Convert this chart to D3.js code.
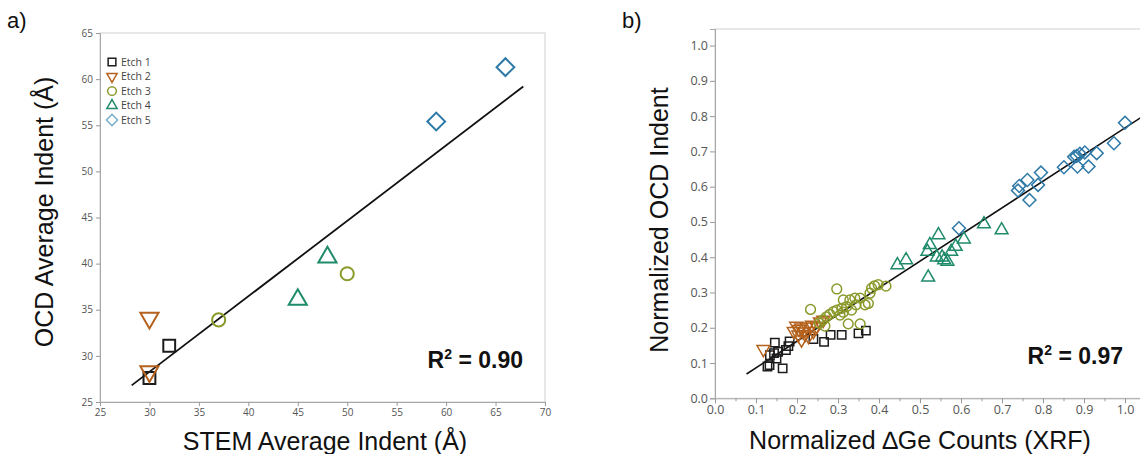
<!DOCTYPE html>
<html>
<head>
<meta charset="utf-8">
<script src="https://cdn.jsdelivr.net/npm/d3@7"></script>
<style>
  body { margin: 0; background: #fff; }
  svg { display: block; }
  .tick text { fill: #555; font-family: "Open Sans", "Noto Sans", sans-serif; }
  .tick line { stroke: #999; }
  .title { font-family: "Liberation Sans", Arial, sans-serif; fill: #111; }
</style>
</head>
<body>
<svg id="chart" width="1140" height="454"></svg>
<script>
// series names, colours and marker shapes
const etchNames = ["Etch 1", "Etch 2", "Etch 3", "Etch 4", "Etch 5"];
const etchColors = ["#1c1c1c", "#b4621d", "#8b9a2b", "#1f8b6b", "#2d79a7"];
const legendColors = ["#1c1c1c", "#b4621d", "#8b9a2b", "#1f8b6b", "#7db2cf"];
const etchShapes = ["square", "triangleDown", "circle", "triangle", "diamond"];

// panel a: STEM vs OCD average indent
const aEtch1 = [[30, 27.6], [32, 31.1]];
const aEtch2 = [[30, 34.1], [30, 28.3]];
const aEtch3 = [[37, 33.9], [50, 38.9]];
const aEtch4 = [[45, 36.1], [48, 40.7]];
const aEtch5 = [[59, 55.4], [66, 61.3]];
const aFit = [[28.2, 26.8], [67.8, 59.2]];
const aTicks = [25, 30, 35, 40, 45, 50, 55, 60, 65, 70];
const aYTicks = [25, 30, 35, 40, 45, 50, 55, 60, 65];

// panel b: normalized XRF counts vs normalized OCD indent
const bEtch1 = [[0.128, 0.090], [0.133, 0.094], [0.134, 0.122], [0.144, 0.128], [0.150, 0.113],
  [0.146, 0.158], [0.154, 0.132], [0.165, 0.085], [0.173, 0.137], [0.179, 0.148], [0.182, 0.161],
  [0.240, 0.168], [0.266, 0.160], [0.282, 0.180], [0.309, 0.180], [0.350, 0.184], [0.368, 0.192]];
const bEtch2 = [[0.118, 0.139], [0.192, 0.190], [0.198, 0.205], [0.205, 0.196], [0.203, 0.180],
  [0.211, 0.166], [0.215, 0.189], [0.224, 0.203], [0.228, 0.176], [0.236, 0.208], [0.240, 0.190],
  [0.248, 0.203], [0.256, 0.217], [0.264, 0.222], [0.220, 0.182], [0.210, 0.200]];
const bEtch3 = [[0.297, 0.310], [0.233, 0.252], [0.398, 0.322], [0.417, 0.318], [0.389, 0.319],
  [0.382, 0.312], [0.378, 0.298], [0.354, 0.284], [0.341, 0.284], [0.329, 0.279], [0.313, 0.279],
  [0.374, 0.269], [0.366, 0.265], [0.321, 0.260], [0.309, 0.255], [0.297, 0.250], [0.289, 0.246],
  [0.280, 0.238], [0.272, 0.231], [0.333, 0.250], [0.344, 0.265], [0.325, 0.211], [0.354, 0.211],
  [0.305, 0.236], [0.313, 0.244], [0.263, 0.222], [0.268, 0.205], [0.254, 0.213]];
const bEtch4 = [[0.656, 0.494], [0.699, 0.477], [0.607, 0.451], [0.587, 0.430], [0.576, 0.416],
  [0.545, 0.463], [0.524, 0.435], [0.518, 0.416], [0.541, 0.400], [0.554, 0.400], [0.559, 0.392],
  [0.567, 0.388], [0.466, 0.392], [0.445, 0.378], [0.520, 0.343]];
const bEtch5 = [[1.000, 0.781], [0.973, 0.723], [0.931, 0.695], [0.911, 0.657], [0.902, 0.697],
  [0.890, 0.693], [0.882, 0.687], [0.876, 0.685], [0.884, 0.657], [0.851, 0.655], [0.795, 0.640],
  [0.788, 0.605], [0.762, 0.619], [0.767, 0.562], [0.742, 0.602], [0.739, 0.589], [0.595, 0.482]];
const bFit = [[0.077, 0.069], [1.04, 0.797]];
const bTicks = [0, 0.1, 0.2, 0.3, 0.4, 0.5, 0.6, 0.7, 0.8, 0.9, 1.0];
const bMinor = [0.05, 0.15, 0.25, 0.35, 0.45, 0.55, 0.65, 0.75, 0.85, 0.95];

const svg = d3.select("#chart");

function shapePath(shape, size) {
  let type = d3.symbolSquare;
  if (shape === "circle") type = d3.symbolCircle;
  if (shape === "triangle" || shape === "triangleDown") type = d3.symbolTriangle;
  let s = size;
  if (shape.startsWith("triangle")) s = size * 0.75;
  if (shape === "diamond") s = size * 1.05;
  return d3.symbol().type(type).size(s)();
}
function shapeRotate(shape) {
  if (shape === "triangleDown") return " rotate(180)";
  if (shape === "diamond") return " rotate(45)";
  return "";
}

function drawPanel(p) {
  let g = svg.append("g");
  let x = d3.scaleLinear().domain(p.xDomain).range(p.xRange);
  let y = d3.scaleLinear().domain(p.yDomain).range(p.yRange);

  // frame
  g.append("rect")
    .attr("x", p.xRange[0]).attr("y", p.yRange[1])
    .attr("width", p.xRange[1] - p.xRange[0])
    .attr("height", p.yRange[0] - p.yRange[1])
    .attr("fill", "none").attr("stroke", "#cfcfcf").attr("stroke-width", 1);

  let xAxis = g.append("g")
    .attr("transform", `translate(0,${p.yRange[0]})`)
    .call(d3.axisBottom(x).tickValues(p.xTicks).tickSize(p.tickLen).tickPadding(p.tickPad).tickFormat(p.fmt));
  let yAxis = g.append("g")
    .attr("transform", `translate(${p.xRange[0]},0)`)
    .call(d3.axisLeft(y).tickValues(p.yTicks).tickSize(p.tickLen).tickPadding(p.tickPad).tickFormat(p.fmt));
  g.selectAll(".domain").attr("stroke", "#a8a8a8");
  g.selectAll(".tick text").style("font-size", p.tickFont + "px");

  if (p.xMinor) {
    g.append("g")
      .attr("transform", `translate(0,${p.yRange[0]})`)
      .call(d3.axisBottom(x).tickValues(p.xMinor).tickSize(3).tickFormat(""))
      .select(".domain").remove();
  }

  // fit line
  g.append("path")
    .datum(p.fit)
    .attr("d", d3.line().x(d => x(d[0])).y(d => y(d[1])))
    .attr("fill", "none").attr("stroke", "#111").attr("stroke-width", p.lineW);

  // points
  p.series.forEach((data, i) => {
    g.append("g").selectAll("path")
      .data(data)
      .join("path")
      .attr("d", shapePath(etchShapes[i], p.sizes[i]))
      .attr("transform", d => `translate(${x(d[0])},${y(d[1])})` + shapeRotate(etchShapes[i]))
      .attr("fill", "none")
      .attr("stroke", etchColors[i])
      .attr("stroke-width", p.strokeW);
  });

  // axis titles
  g.append("text").attr("class", "title")
    .attr("x", p.xTitlePos[0]).attr("y", p.xTitlePos[1])
    .attr("text-anchor", "middle").style("font-size", "25px")
    .text(p.xTitle);
  g.append("text").attr("class", "title")
    .attr("transform", `translate(${p.yTitlePos[0]},${p.yTitlePos[1]}) rotate(-90)`)
    .attr("text-anchor", "middle").style("font-size", "25px")
    .text(p.yTitle);

  // R squared
  let r = g.append("text").attr("class", "title")
    .attr("x", p.rPos[0]).attr("y", p.rPos[1])
    .attr("text-anchor", "end")
    .style("font-size", "23px").style("font-weight", "bold");
  r.append("tspan").text("R");
  r.append("tspan").attr("dy", -9).style("font-size", "14px").text("2");
  r.append("tspan").attr("dy", 9).text(" = " + p.r2);

  // panel letter
  g.append("text").attr("class", "title")
    .attr("x", p.letterPos[0]).attr("y", p.letterPos[1])
    .style("font-size", "22px").text(p.letter);

  return { g, x, y };
}

let panelA = drawPanel({
  xDomain: [25, 70], xRange: [100, 545],
  yDomain: [25, 65], yRange: [402, 33],
  xTicks: aTicks, yTicks: aYTicks, fmt: d3.format("d"),
  tickLen: 4, tickPad: 3, tickFont: 10,
  fit: aFit, lineW: 1.8, strokeW: 2,
  series: [aEtch1, aEtch2, aEtch3, aEtch4, aEtch5],
  sizes: [140, 190, 135, 190, 150],
  xTitle: "STEM Average Indent (Å)", xTitlePos: [325, 450],
  yTitle: "OCD Average Indent (Å)", yTitlePos: [53, 212],
  r2: "0.90", rPos: [523, 368],
  letter: "a)", letterPos: [7, 28]
});

drawPanel({
  xDomain: [0, 1.05], xRange: [715, 1145.5],
  yDomain: [0, 1.047], yRange: [398.3, 29],
  xTicks: bTicks, yTicks: bTicks, xMinor: bMinor, fmt: d3.format(".1f"),
  tickLen: 5, tickPad: 2, tickFont: 12.5,
  fit: bFit, lineW: 1.6, strokeW: 1.5,
  series: [bEtch1, bEtch2, bEtch3, bEtch4, bEtch5],
  sizes: [70, 95, 75, 95, 80],
  xTitle: "Normalized ∆Ge Counts (XRF)", xTitlePos: [920, 449],
  yTitle: "Normalized OCD Indent", yTitlePos: [668, 220],
  r2: "0.97", rPos: [1123, 364],
  letter: "b)", letterPos: [622, 28]
});

// legend inside panel a
const legend = panelA.g.append("g");
const legendY = d3.scalePoint().domain(etchNames).range([62, 120]);
etchNames.forEach((name, i) => {
  let row = legend.append("g").attr("transform", `translate(112,${legendY(name)})`);
  row.append("path")
    .attr("d", shapePath(etchShapes[i], 60))
    .attr("transform", shapeRotate(etchShapes[i]).trim() || null)
    .attr("fill", "none").attr("stroke", legendColors[i]).attr("stroke-width", 1.5);
  row.append("text")
    .attr("x", 9).attr("y", 3.5)
    .style("font-family", "'Open Sans', 'Noto Sans', sans-serif")
    .style("font-size", "10.5px").attr("fill", "#444")
    .text(name);
});
</script>
</body>
</html>
